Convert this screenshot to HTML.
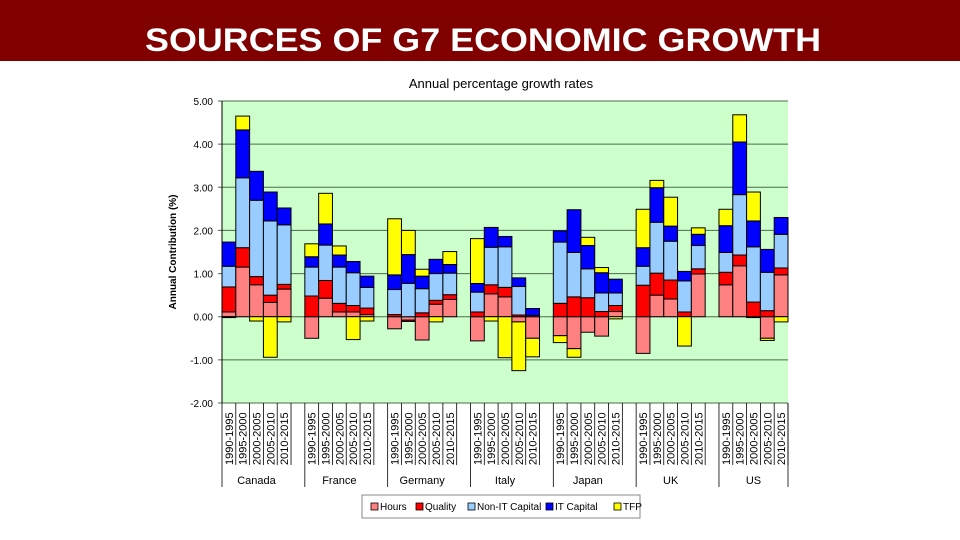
<!DOCTYPE html>
<html><head><meta charset="utf-8"><style>
html,body{margin:0;padding:0;background:#fff;width:960px;height:540px;overflow:hidden}
svg{display:block;font-family:"Liberation Sans",Arial,sans-serif}
</style></head><body>
<svg id="chart" width="960" height="540" xmlns="http://www.w3.org/2000/svg">
<rect x="0" y="0" width="960" height="61" fill="#800000"/>
<text x="145" y="51" font-size="32" font-weight="bold" fill="#fff" textLength="676" lengthAdjust="spacingAndGlyphs">SOURCES OF G7 ECONOMIC GROWTH</text>
<text x="501" y="88" font-size="13" text-anchor="middle" fill="#000">Annual percentage growth rates</text>
<text transform="translate(176,252) rotate(-90)" font-size="10" font-weight="bold" text-anchor="middle">Annual Contribution (%)</text>
<g id="plot"></g>
</svg>
<script>
const countries = ["Canada","France","Germany","Italy","Japan","UK","US"];
const periods = ["1990-1995","1995-2000","2000-2005","2005-2010","2010-2015"];
const seriesNames = ["Hours","Quality","Non-IT Capital","IT Capital","TFP"];
const yTicks = [5,4,3,2,1,0,-1,-2];
const hours   = [0.11,1.15,0.74,0.33,0.64, -0.5,0.43,0.11,0.11,0.05, -0.28,-0.08,-0.54,0.29,0.4, -0.56,0.53,0.46,-0.12,-0.5, -0.44,-0.74,-0.36,-0.45,0.12, -0.85,0.5,0.41,0,0.99, 0.74,1.18,-0.02,-0.5,0.97];
const quality = [0.58,0.45,0.19,0.17,0.11, 0.48,0.41,0.2,0.15,0.15, 0.05,-0.03,0.09,0.09,0.11, 0.11,0.21,0.22,0.04,0.03, 0.31,0.46,0.44,0.12,0.14, 0.73,0.51,0.44,0.11,0.12, 0.29,0.25,0.34,0.14,0.16];
const nonIT   = [0.48,1.62,1.77,1.72,1.38, 0.67,0.82,0.84,0.76,0.48, 0.58,0.77,0.56,0.62,0.5, 0.46,0.87,0.94,0.66,0.0, 1.42,1.03,0.67,0.43,0.29, 0.44,1.18,0.9,0.72,0.54, 0.46,1.4,1.28,0.89,0.78];
const itCap   = [0.56,1.11,0.67,0.67,0.39, 0.24,0.49,0.28,0.26,0.26, 0.34,0.67,0.29,0.33,0.2, 0.2,0.46,0.24,0.2,0.16, 0.26,0.99,0.54,0.47,0.32, 0.43,0.8,0.35,0.22,0.26, 0.62,1.22,0.6,0.53,0.39];
const tfp     = [-0.02,0.32,-0.1,-0.94,-0.12, 0.3,0.71,0.21,-0.53,-0.1, 1.3,0.56,0.16,-0.12,0.3, 1.04,-0.1,-0.95,-1.13,-0.43, -0.16,-0.2,0.19,0.12,-0.05, 0.89,0.17,0.67,-0.68,0.15, 0.38,0.63,0.67,-0.05,-0.12];
const colors = ["#ff8080","#ff0000","#99ccff","#0000ff","#ffff00"];

const NS="http://www.w3.org/2000/svg";
const g=document.getElementById('plot');
const X0=222,X1=788,YTOP=101,YBOT=403,YMAX=5,YMIN=-2;
const slot=(X1-X0)/41;
function y(v){return YTOP+(YMAX-v)*(YBOT-YTOP)/(YMAX-YMIN);}
function xBar(ci,pi){return X0+(ci*6+pi)*slot;}
function mk(tag,attrs){const e=document.createElementNS(NS,tag);for(const k in attrs)e.setAttribute(k,attrs[k]);g.appendChild(e);return e;}

let e=mk('rect',{x:X0,y:YTOP,width:X1-X0,height:YBOT-YTOP,fill:'#ccffcc'});


yTicks.forEach(t=>{
  const l=mk('line',{x1:X0-4,x2:X1,y1:y(t),y2:y(t),stroke:'#4d6b4d','stroke-width':1});
  
  
  const tx=mk('text',{x:X0-9,y:y(t)+4,'font-size':10,'text-anchor':'end'});
  tx.textContent=t.toFixed(2);
  
  
});
e=mk('line',{x1:X0,x2:X0,y1:YTOP,y2:YBOT,stroke:'#000'});



const series=[hours,quality,nonIT,itCap,tfp];
countries.forEach((c,ci)=>{
  periods.forEach((p,pi)=>{
    const i=ci*5+pi;let pos=0,neg=0;const x=xBar(ci,pi);
    series.forEach((s,si)=>{
      const v=s[i];if(v===0)return;let a,b;
      if(v>0){a=pos;b=pos+v;pos=b;}else{a=neg;b=neg+v;neg=b;}
      const r=mk('rect',{x:x,y:Math.min(y(a),y(b)),width:slot,height:Math.abs(y(a)-y(b)),fill:colors[si],stroke:'#000','stroke-width':1});
      
      
    });
    const t=mk('text',{transform:`translate(${x+slot/2+4},465) rotate(-90)`,'font-size':11});
    t.textContent=p;
    
    
    const tl=mk('line',{x1:x+slot,x2:x+slot,y1:YBOT,y2:465,stroke:'#000','stroke-width':0.8});
    
    
  });
  const gx=xBar(ci,0);
  const sep=mk('line',{x1:gx,x2:gx,y1:YBOT,y2:487,stroke:'#000','stroke-width':0.8});
  
  
  const ct=mk('text',{x:gx+slot*2.5,y:484,'font-size':11,'text-anchor':'middle'});
  ct.textContent=c;
  
  
});
e=mk('line',{x1:X1,x2:X1,y1:YBOT,y2:487,stroke:'#000','stroke-width':0.8});



e=mk('rect',{x:362,y:495,width:278,height:23,fill:'#fff',stroke:'#888'});


const lx=[371,416,468,546,614];
seriesNames.forEach((n,si)=>{
  const sw=mk('rect',{x:lx[si],y:503,width:7,height:7,fill:colors[si],stroke:'#000','stroke-width':0.8});
  
  
  const t=mk('text',{x:lx[si]+9,y:510,'font-size':10});
  t.textContent=n;
  
  
});
</script>
</body></html>
